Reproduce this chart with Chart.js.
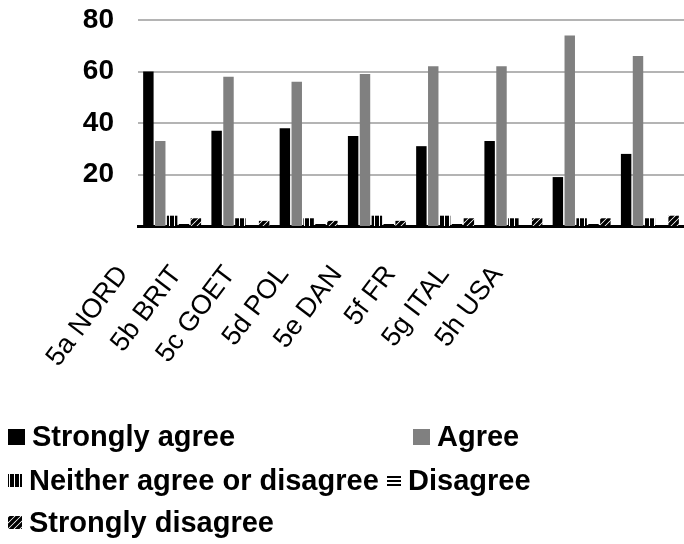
<!DOCTYPE html>
<html>
<head>
<meta charset="utf-8">
<script src="https://cdn.jsdelivr.net/npm/chart.js@4/dist/chart.umd.min.js"></script>
<style>
  html, body { margin: 0; padding: 0; background: #ffffff; }
  #wrap { width: 684px; height: 544px; }
</style>
</head>
<body>
<div id="wrap"><canvas id="c" width="684" height="544"></canvas></div>
<script>
// Survey items (categories along the x axis)
const categories = ['5a NORD', '5b BRIT', '5c GOET', '5d POL', '5e DAN', '5f FR', '5g ITAL', '5h USA'];

// Percent of respondents per answer
const stronglyAgree    = [60, 37, 38, 35, 31, 33, 19, 28];
const agree            = [33, 58, 56, 59, 62, 62, 74, 66];
const neither          = [4, 3, 3, 4, 4, 3, 3, 3];
const disagree         = [1, 0, 1, 1, 1, 0, 1, 0];
const stronglyDisagree = [3, 2, 2, 2, 3, 3, 3, 4];

const seriesNames = ['Strongly agree', 'Agree', 'Neither agree or disagree', 'Disagree', 'Strongly disagree'];
const yTicks = [20, 40, 60, 80];

// Black-and-white hatch fills
function makePattern(kind) {
  const size = kind === 'diag' ? 6 : (kind === 'vert' ? 5 : 4);
  const p = document.createElement('canvas');
  p.width = size; p.height = size;
  const g = p.getContext('2d');
  g.fillStyle = '#ffffff';
  g.fillRect(0, 0, size, size);
  g.fillStyle = '#000000';
  if (kind === 'vert') {
    g.fillRect(0, 0, 4, size);
  } else if (kind === 'horiz') {
    g.fillRect(0, 0, size, 2);
  } else {
    g.strokeStyle = '#000000';
    g.lineWidth = 3.4;
    g.beginPath();
    g.moveTo(-1, size + 1); g.lineTo(size + 1, -1);
    g.moveTo(-1, 1); g.lineTo(1, -1);
    g.moveTo(size - 1, size + 1); g.lineTo(size + 1, size - 1);
    g.stroke();
  }
  return g.createPattern(p, 'repeat');
}

const ctx0 = document.getElementById('c').getContext('2d');
const fills = ['#000000', '#808080', makePattern('vert'), makePattern('horiz'), makePattern('diag')];
const values = [stronglyAgree, agree, neither, disagree, stronglyDisagree];

const datasets = seriesNames.map((name, i) => ({
  label: name,
  data: values[i],
  backgroundColor: fills[i],
  borderWidth: 0,
  barPercentage: 0.88,
  categoryPercentage: 0.87
}));

// Rotated category labels under the axis
const categoryLabels = {
  id: 'categoryLabels',
  afterDraw(chart) {
    const c = chart.ctx;
    const angle = 53 * Math.PI / 180;
    const firstX = 129, step = 53.5, baseY = 274;
    c.save();
    c.font = '27px "Liberation Sans", Arial, sans-serif';
    c.fillStyle = '#000000';
    c.textAlign = 'right';
    c.textBaseline = 'alphabetic';
    chart.data.labels.forEach((lab, i) => {
      c.save();
      c.translate(firstX + step * i, baseY);
      c.rotate(-angle);
      c.fillText(lab, 0, 0);
      c.restore();
    });
    c.restore();
  }
};

// Legend laid out in two columns below the chart
const sideLegend = {
  id: 'sideLegend',
  afterDraw(chart) {
    const c = chart.ctx;
    const slots = [
      { x: 8, y: 437 }, { x: 413, y: 437 },
      { x: 8, y: 481 }, { x: 387, y: 481 },
      { x: 8, y: 523 }
    ];
    c.save();
    c.font = 'bold 29px "Liberation Sans", Arial, sans-serif';
    c.textBaseline = 'middle';
    c.textAlign = 'left';
    chart.data.datasets.forEach((ds, i) => {
      const s = slots[i];
      c.fillStyle = ds.backgroundColor;
      const w = i < 2 ? 17 : 14;
      const h = i < 2 ? 16 : 13;
      c.fillRect(s.x, s.y - Math.round(h / 2), w, h);
      c.fillStyle = '#000000';
      c.fillText(ds.label, s.x + w + 7, s.y + 1);
    });
    c.restore();
  }
};

new Chart(ctx0, {
  type: 'bar',
  data: { labels: categories, datasets: datasets },
  options: {
    responsive: false,
    animation: false,
    layout: { padding: { top: 20, right: 0, left: 0, bottom: 0 } },
    plugins: {
      legend: { display: false },
      tooltip: { enabled: false }
    },
    scales: {
      x: {
        grid: { display: false, drawTicks: false },
        border: { display: true, color: '#000000', width: 3 },
        ticks: { display: false },
        afterFit(scale) { scale.height = 318; }
      },
      y: {
        min: 0,
        max: 80,
        afterFit(scale) {
          scale.width = 138;
          scale.paddingTop = 0;
          scale.paddingBottom = 0;
        },
        afterBuildTicks(scale) { scale.ticks = yTicks.map(v => ({ value: v })); },
        grid: { color: '#b4b4b4', lineWidth: 2, drawTicks: false },
        border: { display: false },
        ticks: {
          padding: 24,
          color: '#000000',
          font: { family: '"Liberation Sans", Arial, sans-serif', size: 28, weight: 'bold' }
        }
      }
    }
  },
  plugins: [categoryLabels, sideLegend]
});
</script>
</body>
</html>
